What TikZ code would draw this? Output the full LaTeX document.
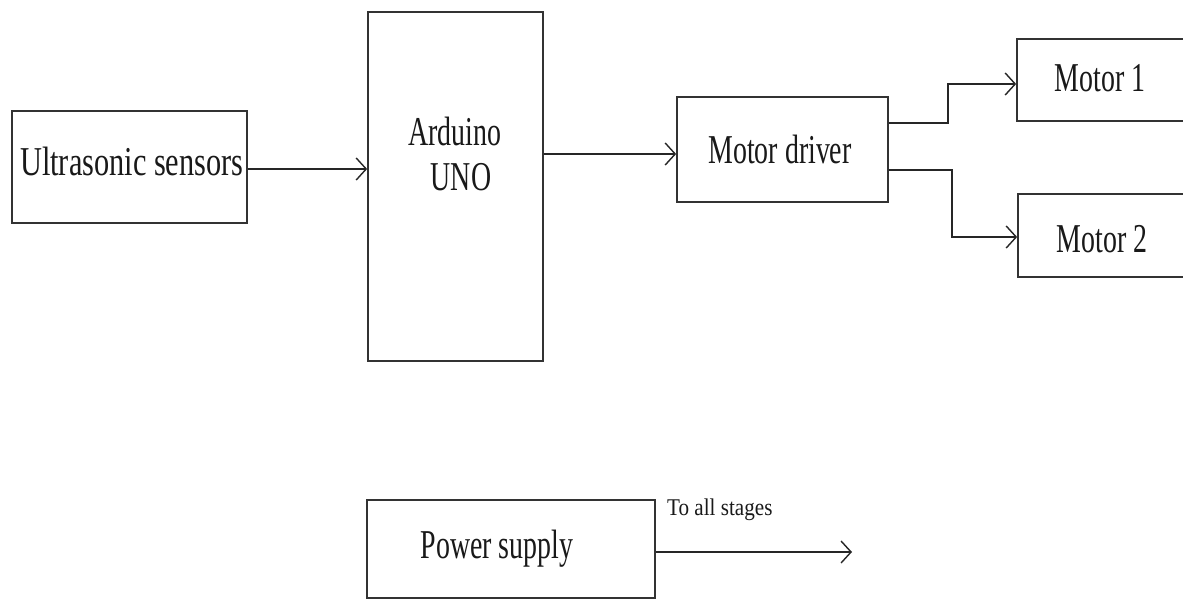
\documentclass[tikz,border=0pt]{standalone}
\usepackage{fontspec}
\setmainfont{Liberation Serif}
\usepackage{graphicx}
\usetikzlibrary{arrows.meta}
\newcommand\sqz[2][0.68]{\scalebox{#1}[1]{#2}}
\tikzset{
  blk/.style={draw=black!80, line width=1.7pt, inner sep=0pt, fill=none},
  lbl/.style={inner sep=0pt, anchor=base, text=black!90, font=\fontsize{41}{43}\selectfont},
  conn/.style={draw=black!85, line width=1.7pt, -{Straight Barb[length=10pt,width=22pt,line width=1.4pt]}},
  wire/.style={draw=black!85, line width=1.7pt}
}
\begin{document}
\begin{tikzpicture}[x=1pt,y=-1pt]
\useasboundingbox[fill=white] (0,0) rectangle (1183,602);
% boxes
\node[blk, minimum width=235pt, minimum height=112pt] (S) at (129.5,167) {};
\node[blk, minimum width=175pt, minimum height=349pt] (A) at (455.5,186.5) {};
\node[blk, minimum width=211pt, minimum height=105pt] (D) at (782.5,149.5) {};
\node[blk, minimum width=180pt, minimum height=82pt] (M1) at (1107,80) {};
\node[blk, minimum width=180pt, minimum height=83pt] (M2) at (1108,235.5) {};
\node[blk, minimum width=288pt, minimum height=98pt] (P) at (511,549) {};
% texts
\node[lbl, anchor=base west] (tS) at (20,175) {\sqz[0.74]{Ultrasonic sensors}};
\node[lbl] (tA1) at (455,145) {\sqz{Arduino}};
\node[lbl] (tA2) at (461,190) {\sqz{UNO}};
\node[lbl] (tD) at (780,163) {\sqz{Motor driver}};
\node[lbl] (tM1) at (1100,92) {\sqz{Motor 1}};
\node[lbl] (tM2) at (1102,252) {\sqz{Motor 2}};
\node[lbl] (tP) at (497,558) {\sqz{Power supply}};
% connectors
\draw[conn] (S.east |- 0,169) -- (A.west |- 0,169);
\draw[conn] (A.east |- 0,154) -- (D.west |- 0,154);
\draw[conn] (D.east |- 0,123) -- (948,123) -- (948,84) -- (M1.west |- 0,84);
\draw[conn] (D.east |- 0,170) -- (952,170) -- (952,237) -- (M2.west |- 0,237);
\coordinate (pend) at (852,552);
\draw[conn] (P.east |- pend) -- (pend);
\node[inner sep=0pt, anchor=base west, text=black!90, font=\fontsize{24}{26}\selectfont] (tAll) at (667,515) {\sqz[0.88]{To all stages}};
\end{tikzpicture}
\end{document}
